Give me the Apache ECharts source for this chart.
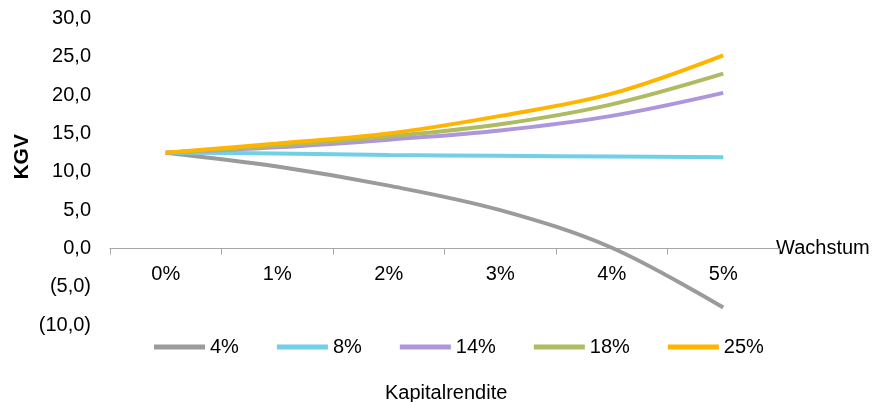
<!DOCTYPE html>
<html>
<head>
<meta charset="utf-8">
<script src="https://cdn.jsdelivr.net/npm/echarts@6/dist/echarts.min.js"></script>
<style>
  html, body { margin: 0; padding: 0; background: #fff; }
  #chart { width: 877px; height: 402px; }
</style>
</head>
<body>
<div id="chart"></div>
<script>
var wachstum = ['0%', '1%', '2%', '3%', '4%', '5%'];
var renditen = ['4%', '8%', '14%', '18%', '25%'];
var kgv4 = [12.5, 10.7, 8.2, 5.0, 0.1, -7.7];
var kgv8 = [12.5, 12.4, 12.2, 12.1, 12.0, 11.9];
var kgv14 = [12.5, 13.2, 14.2, 15.4, 17.3, 20.3];
var kgv18 = [12.5, 13.4, 14.6, 16.2, 18.8, 22.8];
var kgv25 = [12.5, 13.7, 15.0, 17.3, 20.2, 25.2];
var farben = ['#9b9b9b', '#70d0e6', '#ad96dc', '#aebb61', '#ffb400'];

function zahl(v) {
  var s = Math.abs(v).toFixed(1).replace('.', ',');
  return v < 0 ? '(' + s + ')' : s;
}

function linie(name, werte, farbe) {
  return {
    name: name,
    type: 'line',
    data: werte,
    smooth: 0.35,
    symbol: 'none',
    lineStyle: { width: 4, color: farbe },
    itemStyle: { color: farbe }
  };
}

var font = '"Liberation Sans", Arial, sans-serif';
var myChart = echarts.init(document.getElementById('chart'));
// x axis sits at y = 0, i.e. 3/4 down the plot height
var plotTop = 18.5, plotBottom = 76.8;
var nullOffset = (402 - plotTop - plotBottom) * 0.25;
var option = {
  animation: false,
  textStyle: { fontFamily: font },
  grid: { left: 110, right: 98, top: plotTop, bottom: plotBottom },
  title: {
    text: 'Kapitalrendite',
    left: 385,
    top: 383,
    padding: 0,
    textStyle: { fontSize: 20, fontWeight: 'normal', color: '#000', fontFamily: font }
  },
  legend: {
    left: 149,
    top: 332,
    icon: 'rect',
    itemWidth: 51,
    itemHeight: 5,
    itemGap: 38,
    textStyle: { fontSize: 20, color: '#000', fontFamily: font },
    data: renditen
  },
  xAxis: {
    type: 'category',
    data: wachstum,
    boundaryGap: true,
    offset: -nullOffset,
    name: 'Wachstum',
    nameLocation: 'end',
    nameGap: -3,
    nameTextStyle: { fontSize: 20, color: '#000', fontFamily: font },
    axisLine: { onZero: false, lineStyle: { color: '#a6a6a6', width: 1 } },
    axisTick: { show: true, length: 6, lineStyle: { color: '#a6a6a6' } },
    axisLabel: { fontSize: 20, color: '#000', margin: 16 },
    splitLine: { show: false }
  },
  yAxis: {
    type: 'value',
    min: -10,
    max: 30,
    interval: 5,
    name: 'KGV',
    nameLocation: 'middle',
    nameRotate: 90,
    nameGap: 77,
    nameMoveOverlap: false,
    nameTextStyle: { fontSize: 21, fontWeight: 'bold', color: '#000', fontFamily: font, padding: [0, 0, 0, 30] },
    axisLine: { show: false },
    axisTick: { show: false },
    splitLine: { show: false },
    axisLabel: { fontSize: 20, color: '#000', margin: 19, formatter: zahl }
  },
  series: [
    linie(renditen[0], kgv4, farben[0]),
    linie(renditen[1], kgv8, farben[1]),
    linie(renditen[2], kgv14, farben[2]),
    linie(renditen[3], kgv18, farben[3]),
    linie(renditen[4], kgv25, farben[4])
  ]
};
myChart.setOption(option);
</script>
</body>
</html>
